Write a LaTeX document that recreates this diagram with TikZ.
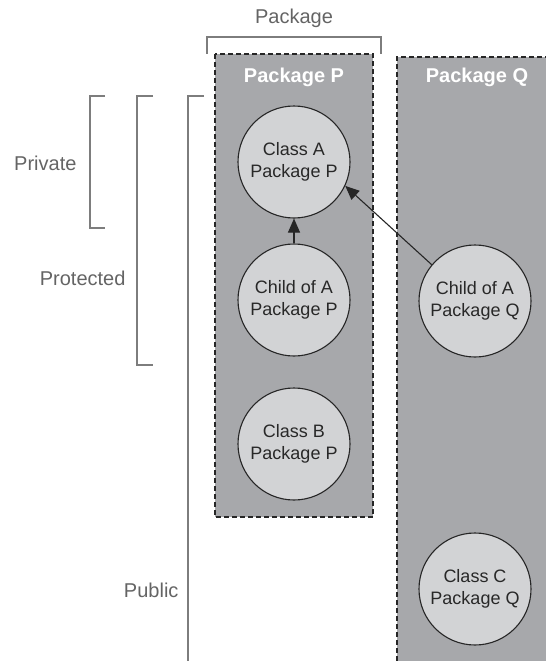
\documentclass[tikz,border=0pt]{standalone}
\usepackage{fontspec}
\setmainfont{Liberation Sans}
\usepackage{xcolor}
\usepackage{tikz}
\usetikzlibrary{arrows.meta, positioning}

\definecolor{boxgray}{RGB}{167,168,171}
\definecolor{classgray}{RGB}{210,211,213}
\definecolor{labelgray}{RGB}{100,100,100}
\definecolor{rulegray}{RGB}{125,125,125}
\definecolor{inkgray}{RGB}{40,40,40}

\begin{document}
\begin{tikzpicture}[x=1pt, y=-1pt,
    classnode/.style={circle, draw=black!85, line width=1.1pt, fill=classgray, minimum size=112pt, inner sep=0pt, align=center, text=inkgray, font=\fontsize{18}{22}\selectfont},
    pkgtitle/.style={text=white, font=\fontsize{20}{24}\selectfont\bfseries},
    sidelabel/.style={text=labelgray, font=\fontsize{20}{24}\selectfont},
    pkgedge/.style={draw=black!85, line width=1.2pt, dash pattern=on 5pt off 3pt},
    bracket/.style={draw=rulegray, line width=1.1pt},
    inherit/.style={draw=black!85, line width=1.1pt, -{Triangle[length=14pt, width=12pt]}}]
    \useasboundingbox (0,0) rectangle (546,661);

    % Package boxes
    \fill[boxgray] (215,54) rectangle (373,517);
    \draw[pkgedge] (215,54) rectangle (373,517);
    \fill[boxgray] (397,57) rectangle (546,661);
    \draw[pkgedge] (397,661) -- (397,57) -- (546,57);
    \node[pkgtitle] (titleP) at (294,77) {Package P};
    \node[pkgtitle] (titleQ) at (477,77) {Package Q};

    % Package bracket
    \draw[bracket] (207,54) -- (207,37) -- (381,37) -- (381,54);
    \node[sidelabel] (pkglabel) at (294,18) {Package};

    % Visibility brackets
    \draw[bracket] (105,96) -- (90,96) -- (90,228) -- (105,228);
    \node[sidelabel, anchor=east] (private) at (80,163) {Private};
    \draw[bracket] (153,96) -- (137,96) -- (137,365) -- (153,365);
    \node[sidelabel, anchor=east] (protected) at (129,278) {Protected};
    \draw[bracket] (204,96) -- (188,96) -- (188,661);
    \node[sidelabel, anchor=east] (public) at (182,590) {Public};

    % Classes
    \node[classnode] (clsA) at (294,162) {Class A\\Package P};
    \node[classnode] (childP) at (294,300) {Child of A\\Package P};
    \node[classnode] (clsB) at (294,444) {Class B\\Package P};
    \node[classnode] (childQ) at (475,301) {Child of A\\Package Q};
    \node[classnode] (clsC) at (475,589) {Class C\\Package Q};

    % Inheritance
    \draw[inherit] (childP) -- (clsA);
    \draw[inherit] (childQ.140) -- (clsA.-25);
  \end{tikzpicture}
\end{document}
